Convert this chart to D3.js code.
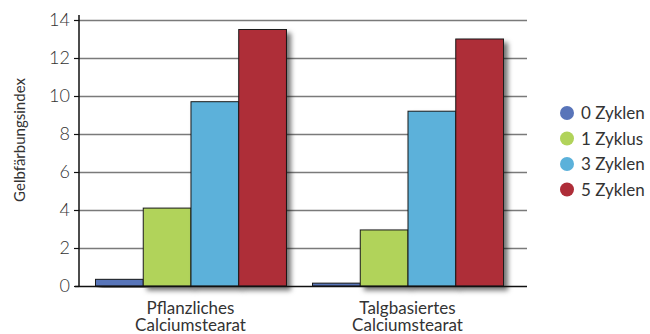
<!DOCTYPE html>
<html>
<head>
<meta charset="utf-8">
<script src="https://cdn.jsdelivr.net/npm/d3@7"></script>
<style>
  html, body { margin: 0; padding: 0; background: #fff; }
  svg { display: block; font-family: Lato, "Open Sans", sans-serif; }
</style>
</head>
<body>
<svg id="chart" width="650" height="334"></svg>
<script>
// Data
const categories = [["Pflanzliches", "Calciumstearat"], ["Talgbasiertes", "Calciumstearat"]];
const categoryKeys = ["Pflanzliches Calciumstearat", "Talgbasiertes Calciumstearat"];
const seriesNames = ["0 Zyklen", "1 Zyklus", "3 Zyklen", "5 Zyklen"];
const cycles0 = [0.35, 0.15];
const cycles1 = [4.1, 2.95];
const cycles3 = [9.7, 9.2];
const cycles5 = [13.5, 13.0];
const yTicks = [0, 2, 4, 6, 8, 10, 12, 14];
const colors = ["#5874b9", "#b1d35a", "#5bb1da", "#ae2d38"];

const seriesValues = [cycles0, cycles1, cycles3, cycles5];

const svg = d3.select("#chart");
const plotLeft = 79, plotRight = 527, plotTop = 20, plotBottom = 286;

const y = d3.scaleLinear().domain([0, 14]).range([plotBottom, plotTop]);
const x0 = d3.scaleBand().domain(categoryKeys).range([95, 503]).paddingInner(0.12).paddingOuter(0);
const x1 = d3.scaleBand().domain(seriesNames).range([0, x0.bandwidth()]).padding(0);
const color = d3.scaleOrdinal().domain(seriesNames).range(colors);

// Drop shadow for bars
const defs = svg.append("defs");
const f = defs.append("filter").attr("id", "shadow")
  .attr("x", "-20%").attr("y", "-10%").attr("width", "160%").attr("height", "130%");
f.append("feDropShadow").attr("dx", 4).attr("dy", 4).attr("stdDeviation", 2.5)
  .attr("flood-color", "#000").attr("flood-opacity", 0.55);

// Gridlines
svg.append("g").selectAll("line").data(yTicks.filter(d => d > 0)).join("line")
  .attr("x1", plotLeft).attr("x2", plotRight)
  .attr("y1", d => y(d) + 0.5).attr("y2", d => y(d) + 0.5)
  .attr("stroke", "#7a7a7a").attr("stroke-width", 1.3);

// Bars
const groups = svg.append("g").selectAll("g").data(categoryKeys).join("g")
  .attr("transform", d => `translate(${x0(d)},0)`);
groups.selectAll("rect")
  .data((d, i) => seriesNames.map((s, j) => ({ s, v: seriesValues[j][i] })))
  .join("rect")
  .attr("x", d => x1(d.s) + 0.5)
  .attr("y", d => y(d.v))
  .attr("width", x1.bandwidth())
  .attr("height", d => plotBottom - y(d.v))
  .attr("fill", d => color(d.s))
  .attr("stroke", "#1a1a1a").attr("stroke-width", 1)
  .attr("filter", "url(#shadow)");

// Y axis
const yAxis = d3.axisLeft(y).tickValues(yTicks).tickSize(5).tickPadding(4).tickFormat(d3.format("d"));
const ya = svg.append("g").attr("transform", `translate(${plotLeft},0)`).call(yAxis);
ya.select(".domain").remove();
ya.selectAll(".tick line").attr("stroke", "#111").attr("stroke-width", 1.2);
ya.selectAll(".tick text").attr("font-size", 18).attr("fill", "#333")
  .attr("font-family", "Lato, sans-serif").attr("font-weight", 300);
svg.append("line").attr("x1", plotLeft).attr("x2", plotLeft)
  .attr("y1", 15).attr("y2", plotBottom).attr("stroke", "#111").attr("stroke-width", 1.5);
svg.append("line").attr("x1", plotLeft - 4).attr("x2", plotRight)
  .attr("y1", plotBottom + 0.5).attr("y2", plotBottom + 0.5).attr("stroke", "#111").attr("stroke-width", 1.5);

// Y axis title
svg.append("text")
  .attr("transform", `translate(25,${(plotTop + plotBottom) / 2 - 13}) rotate(-90)`)
  .attr("text-anchor", "middle").attr("font-size", 15).attr("fill", "#333")
  .text("Gelbfärbungsindex");

// Category labels
const catLabels = svg.append("g").selectAll("text").data(categoryKeys).join("text")
  .attr("x", d => x0(d) + x0.bandwidth() / 2)
  .attr("y", 314)
  .attr("text-anchor", "middle").attr("font-size", 17).attr("fill", "#333");
catLabels.each(function (d, i) {
  const t = d3.select(this);
  categories[i].forEach((line, k) => {
    t.append("tspan").attr("x", x0(d) + x0.bandwidth() / 2).attr("dy", k === 0 ? 0 : 17).text(line);
  });
});

// Legend
const legend = svg.append("g").selectAll("g").data(seriesNames).join("g")
  .attr("transform", (d, i) => `translate(567,${113 + i * 25.5})`);
legend.append("circle").attr("r", 7).attr("fill", d => color(d));
legend.append("text").attr("x", 14).attr("y", 6)
  .attr("font-size", 17).attr("fill", "#333").text(d => d);
</script>
</body>
</html>
